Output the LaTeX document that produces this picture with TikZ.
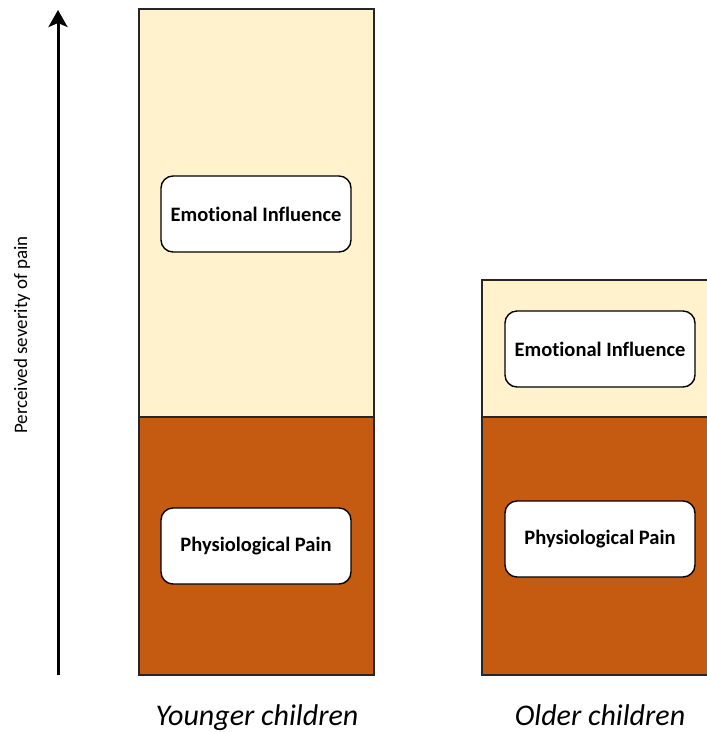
\documentclass[tikz,border=0pt]{standalone}
\usepackage{fontspec}
\setmainfont{Carlito}[Ligatures=NoCommon]
\usetikzlibrary{
    arrows.meta,
    positioning
}
\definecolor{emocream}{HTML}{FFF2CC}
\definecolor{painorange}{HTML}{C55A11}

\begin{document}
\begin{tikzpicture}[x=1pt, y=-1pt, >={Stealth[length=17pt, width=19pt, inset=4pt]},
    barpart/.style={draw=black!85, line width=1.3pt},
    labelbox/.style={draw=black, line width=1.4pt, fill=white,
        rounded corners=12pt, minimum width=190pt, minimum height=76pt,
        font=\bfseries\fontsize{20.5}{24}\selectfont},
    grouplabel/.style={anchor=base, font=\itshape\fontsize{30}{36}\selectfont}]
    \useasboundingbox (0,0) rectangle (707,732);
    \clip (0,0) rectangle (707,732);
    % severity axis
    \coordinate (axisbottom) at (58,675);
    \coordinate (axistop) at (58,10);
    \draw[->, line width=3pt] (axisbottom) -- (axistop);
    \node[rotate=90, font=\fontsize{19}{22}\selectfont] (axislabel) at (22,335)
        {Perceived severity of pain};
    % younger children bar
    \filldraw[barpart, fill=emocream] (139,9) rectangle (374,417);
    \filldraw[barpart, fill=painorange] (139,417) rectangle (374,675);
    \node[labelbox] (youngemo) at (256,214) {Emotional Influence};
    \node[labelbox] (youngpain) at (256,546) {Physiological Pain};
    \node[grouplabel] (younglabel) at (257,725) {Younger children};
    % older children bar (runs off the right edge)
    \filldraw[barpart, fill=emocream] (482,280) rectangle (715,417);
    \filldraw[barpart, fill=painorange] (482,417) rectangle (715,675);
    \node[labelbox] (oldemo) at (600,349) {Emotional Influence};
    \node[labelbox] (oldpain) at (600,539) {Physiological Pain};
    \node[grouplabel] (oldlabel) at (600,725) {Older children};
\end{tikzpicture}
\end{document}
